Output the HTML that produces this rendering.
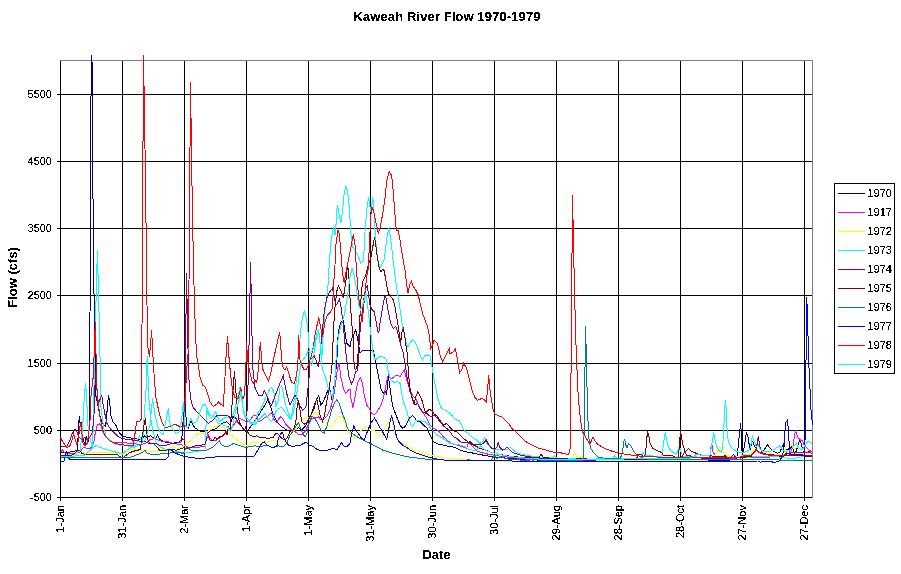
<!DOCTYPE html><html><head><meta charset="utf-8"><style>html,body{margin:0;padding:0;background:#fff}svg{display:block}text{font-family:"Liberation Sans",sans-serif;fill:#000}</style></head><body>
<svg width="901" height="574" viewBox="0 0 901 574">
<rect width="901" height="574" fill="#fff"/>
<g shape-rendering="crispEdges" stroke="#000" stroke-width="1" fill="none">
<line x1="60.5" y1="60" x2="60.5" y2="501"/>
<line x1="122.5" y1="60" x2="122.5" y2="501"/>
<line x1="184.5" y1="60" x2="184.5" y2="501"/>
<line x1="246.5" y1="60" x2="246.5" y2="501"/>
<line x1="308.5" y1="60" x2="308.5" y2="501"/>
<line x1="370.5" y1="60" x2="370.5" y2="501"/>
<line x1="432.5" y1="60" x2="432.5" y2="501"/>
<line x1="494.5" y1="60" x2="494.5" y2="501"/>
<line x1="556.5" y1="60" x2="556.5" y2="501"/>
<line x1="618.5" y1="60" x2="618.5" y2="501"/>
<line x1="680.5" y1="60" x2="680.5" y2="501"/>
<line x1="742.5" y1="60" x2="742.5" y2="501"/>
<line x1="804.5" y1="60" x2="804.5" y2="501"/>
<line x1="57" y1="94.5" x2="812" y2="94.5"/>
<line x1="57" y1="161.5" x2="812" y2="161.5"/>
<line x1="57" y1="228.5" x2="812" y2="228.5"/>
<line x1="57" y1="295.5" x2="812" y2="295.5"/>
<line x1="57" y1="363.5" x2="812" y2="363.5"/>
<line x1="57" y1="430.5" x2="812" y2="430.5"/>
<line x1="57" y1="497.5" x2="812" y2="497.5"/>
</g>
<g shape-rendering="crispEdges" stroke="#808080" stroke-width="1" fill="none"><line x1="60" y1="60.5" x2="813" y2="60.5"/><line x1="812.5" y1="60" x2="812.5" y2="498"/></g>
<defs><clipPath id="c"><rect x="60" y="55" width="753" height="443"/></clipPath></defs>
<g clip-path="url(#c)" shape-rendering="crispEdges" fill="none" stroke-width="1" stroke-linejoin="miter">
<polyline stroke="#000080" points="61,453 66,452.5 70,452 74,451.5 77.5,450 78.5,427 79.3,416 80,422.7 81,422 81.8,437 83,439.5 85,444.5 86.2,435.8 87.5,443 88.5,440 89.5,422 91.5,-7 93.5,266 95.9,396 97.9,405 99.8,415.8 101.8,421 103.8,425 105.3,426 106.4,419.7 107.7,402.7 108.7,395.5 109.6,401.4 111,415.8 113,422 115.5,424.2 116.8,427.5 119.4,432.7 122.7,436 127,437.3 133.8,438.6 141,439.5 144.5,435.8 147,437.7 150.8,435.8 153,437.7 156,438.3 157.6,435 159.5,439.5 164.5,442 172,443.3 178,442.5 181.7,440 183.3,418.3 184.7,398 186,416.7 186.7,426.7 188.3,428.3 190.8,420.8 192.5,424.2 195,428 200,431 205,432 208.3,432.5 211.7,430.0 216.7,428.3 221.7,423.3 226.7,421.7 230.0,425.0 232.5,417.5 235.0,416.7 237.5,421.7 241.7,426.7 245.0,430.8 248.3,430.0 251.7,425.0 256.7,418.3 261.7,410.0 265.0,405.0 267.5,400.0 270.0,405.0 273.3,415.0 276.7,421.7 281.7,426.7 286.7,430.0 290.8,431.7 295.0,430.0 298.3,427.5 301.7,430.0 305.0,426.7 308.3,420.0 311.7,413.3 315.0,403.3 316.7,399.2 318.7,395.8 320.8,405.0 323.3,401.7 326.7,393.3 329.2,386.7 331.7,398.3 333.3,393.3 335.0,376.7 336.7,363.3 338.3,331.7 340.8,322.5 343.3,320.8 345.0,331.7 346.7,343.3 350.0,346.7 350.8,341.7 352.5,336.7 354.2,333.3 355.8,330.0 357.5,338.3 359.2,348.3 360.0,352.5 362.5,350.8 366.7,350.0 373.3,350.5 375.8,363.3 377.5,371.7 379.2,380.0 380.8,388.3 383.3,393.3 385.3,391.3 386.7,394.2 387.5,383.3 388.3,375.8 390.0,388.3 391.7,400.0 393.3,408.3 396.7,416.7 400.0,425.0 402.5,428.3 405.0,426.7 407.5,421.7 410.0,417.5 412.5,415.8 415.0,418.3 416.7,420.8 420.0,421.7 423.3,425.0 426.7,427.5 429.2,433.3 431.7,438.3 433.3,441.7 438.3,444.2 443.3,445.0 450.0,446.7 451.7,446.7 455.0,447.5 460.0,450.0 465.0,451.7 470.0,452.5 478.3,454.2 486.7,455.8 495.0,457.0 511.7,458.7 528.3,459.7 545.0,460.3 595.0,460.8 596.7,460.8 723.3,460.8 736.7,459.2 738.1,447.3 739.4,434.2 740.7,423.1 741.3,434.2 742.0,451.2 743.3,452.5 744.6,444.6 745.9,435.5 746.6,433.3 747.9,436.8 749.2,444.6 750.5,449.9 751.8,440.7 753.1,442.0 754.4,445.9 756.4,449.9 758.3,452.5 760.9,453.1 764.2,449.9 766.1,446.6 767.5,445.0 769.4,447.3 772.0,450.5 774.6,451.8 777.3,453.1 779.9,452.5 781.8,447.3 783.8,443.3 785.1,447.3 786.4,449.9 787.7,449.2 790.3,448.6 791.6,446.6 792.9,448.6 794.2,452.5 796.2,451.2 798.2,444.6 799.5,440.1 800.8,442.0 802.1,447.3 803.4,451.2 804.7,451.2 808.6,451.2 812.3,451.4"/>
<polyline stroke="#FF00FF" points="61,452 62.5,450 65,453 71,454 75,453 80,452 81.7,449.5 84,447 87.5,448.5 90,449 92.5,445.5 94,441 95.4,432 97.3,425.2 99.2,423.6 101,426 103,432 104.7,435.8 108.5,439.5 113.5,442.6 123,442.6 130,443.3 136,444 142,444.5 147,442.6 149.5,440 153,439 155,438.5 157,439.5 162,441.4 167,441.4 172,443 177,444 182,445 186,446 190,448 196,447.5 205,446.5 207.5,433.3 210.0,438.3 213.3,440.8 216.7,440.0 221.7,436.7 225.0,433.3 229.2,430.0 232.5,426.7 235.8,421.7 240.0,418.3 243.3,420.0 246.7,421.7 250.0,420.0 253.3,415.8 256.7,415.0 258.3,421.7 261.7,420.0 265.0,417.5 268.3,415.8 271.7,412.5 274.2,420.0 276.7,422.5 280.0,416.7 282.5,418.3 285.0,423.3 288.3,426.7 291.7,430.0 295.0,431.7 298.3,434.2 301.7,435.0 305.0,431.7 308.3,425.0 311.7,418.3 315.0,418.3 318.3,416.7 320.8,420.0 323.3,419.2 326.7,416.7 330.0,410.0 333.3,398.3 335.8,381.7 337.5,368.3 339.2,363.3 340.8,376.7 343.3,388.3 345.8,393.3 348.3,390.0 350.0,389.2 350.8,398.3 353.0,407.5 355.0,396.7 357.5,383.3 360.3,377.5 362.5,383.3 364.2,395.0 366.7,405.0 369.2,408.3 371.7,413.3 374.2,415.0 376.7,412.5 379.2,408.3 381.7,403.3 383.3,398.3 385.0,390.0 386.7,381.7 388.3,375.0 390.8,379.2 393.3,377.5 396.7,375.0 400.0,376.7 402.5,372.5 404.5,370.0 405.8,376.7 408.3,385.0 410.8,391.7 413.3,396.7 415.8,398.3 418.3,405.0 420.8,410.0 423.3,413.3 426.7,418.3 430.0,425.0 433.3,428.3 438.3,430.8 443.3,436.7 450.0,442.5 453.3,444.2 456.7,445.0 461.7,446.7 466.7,448.3 468.3,443.3 469.7,442.0 471.7,445.8 474.2,448.3 476.7,450.8 481.7,452.5 488.3,454.2 495.0,455.3 503.3,456.7 511.7,457.5 528.3,459.2 545.0,460.0 595.0,461.3 596.7,460.0 706.7,460.0 710.0,456.7 710.8,448.3 711.7,443.3 713.0,451.7 715.0,455.0 716.7,456.3 723.3,458.3 740.0,459.2 742.0,457.1 764.2,457.4 779.9,456.4 790.3,452.5 792.9,447.3 794.2,438.1 795.5,430.3 796.6,434.2 798.2,438.1 800.8,440.1 802.7,440.7 804.0,444.6 806.0,447.3 808.0,449.2 812.3,452.5"/>
<polyline stroke="#FFFF00" points="61,454.5 80,454 86,453 92,452.5 110,452.5 120,453.5 124,454 129,451 134.5,448.5 140,450.5 149,452 157,451 162,449.5 167,449.5 172,447 178,448.5 181,447 185,445 190,441.5 194,437 197.5,434 201,433.5 205,433 210.0,430.0 215.0,426.7 218.3,425.8 221.7,427.5 225.0,428.3 227.5,431.7 230.0,434.2 233.3,436.7 236.7,439.2 241.7,443.3 246.7,445.8 250.0,444.2 253.3,441.7 256.7,443.3 259.2,441.7 261.7,443.3 266.7,442.5 271.7,440.8 275.0,440.0 277.5,442.5 280.0,438.3 283.3,439.2 286.7,441.7 289.2,438.3 291.7,431.7 295.0,430.0 298.3,425.8 300.0,423.3 303.3,419.2 306.7,417.5 310.0,418.3 312.5,416.7 315.0,411.7 317.5,415.0 320.0,416.7 322.5,420.8 325.8,422.5 328.3,425.8 331.7,426.7 335.0,421.7 337.5,417.5 340.0,415.8 342.5,417.5 345.0,425.0 347.5,431.7 350.0,433.3 353.3,438.3 356.7,436.7 360.0,431.7 363.3,428.3 366.7,426.7 369.2,429.2 371.7,430.8 374.2,430.0 376.7,432.5 380.0,435.8 382.5,435.0 385.0,428.3 387.5,423.3 390.0,419.2 391.7,418.3 393.3,426.7 395.0,433.3 396.7,438.3 400.0,442.5 405.0,444.2 410.0,447.5 414.2,450.0 423.3,453.3 436.7,456.7 450.0,458.7 495.0,461.3 545.0,462.0 570.0,461.7 572.5,457.5 574.7,452.5 576.7,456.7 580.0,457.5 581.7,455.8 583.3,458.3 586.7,459.7 595.0,460.0 596.7,460.3 713.3,460.0 715.8,455.0 717.5,450.0 719.7,446.7 721.7,450.0 723.3,452.5 725.8,454.2 728.3,455.8 733.3,457.5 740.0,458.0 742.0,455.4 744.6,455.1 751.1,453.8 757.0,447.3 758.7,444.0 760.0,447.3 762.2,451.2 765.5,452.5 768.1,451.8 770.7,453.8 777.3,455.1 783.8,453.8 785.7,447.3 787.7,442.7 789.0,447.3 790.3,445.9 791.6,444.6 792.9,447.3 794.9,448.6 798.2,447.3 800.8,448.6 804.7,451.2 812.3,453.1"/>
<polyline stroke="#00FFFF" points="61,455.5 70,455.7 73.7,454.5 77.4,452 80,450.7 81.7,438 83,421 84.2,398.5 85.6,383 86.7,400 88.6,437 90.4,439 92.3,448 93,433 93.8,396 95.5,320 97.4,250 99.5,330 101,408 103.5,427 106,435.8 109.7,439.5 114.7,443.9 119.7,445.1 124.7,445.7 132,446.4 135.8,445.7 138.3,438.3 139.6,435.8 140.8,439.5 142,442 143.3,433.3 144.5,408.4 145.8,396 147.2,356 149,400 151,420 153,432 156,442 160,447 165,449 172,451 180,452 190,452.5 205,450 206.7,410.0 209.2,416.7 211.7,418.3 214.2,413.3 215.8,411.7 217.5,416.7 220.0,421.7 223.3,418.3 226.7,417.5 230.0,418.3 232.5,415.0 235.0,408.3 237.5,398.3 240.0,387.5 241.7,398.3 243.7,413.3 245.8,418.3 248.3,421.7 251.7,424.2 255.0,421.7 257.5,413.3 260.0,410.0 263.3,403.3 266.7,395.8 269.2,390.0 271.7,387.5 274.2,393.3 275.8,406.7 278.3,400.0 280.0,388.3 281.7,385.8 283.3,393.3 285.0,403.3 287.5,410.0 290.0,418.3 291.7,415.0 293.5,404 295,392 296.4,379.4 298.2,355 299.6,342 301,328 302.4,318 304.5,310.4 306.6,319.5 307.7,328 308.7,342 309.4,356 310.3,363 311.7,365 313.3,358 316,340 318.7,333 320.5,345 322,355 323.5,330 325,310 326.7,298 328.3,282 329.2,265 330.8,243.3 332.5,231.7 333.8,227.5 335.0,235.0 335.8,231.7 336.3,215.0 337.5,205.3 339.2,215.0 340.8,223.3 342.5,211.7 344.2,193.3 345.8,186.3 347.5,190.0 349.2,206.7 350.8,231.7 352.5,246.7 355.8,251.7 358.3,256.7 360.8,263.3 363.3,260.8 364.2,248.3 365.0,231.7 366.3,215.0 367.5,203.3 368.7,197.0 370.0,206.7 371.2,213.3 372.0,203.3 372.8,197.0 374.2,215.0 375.3,235.0 376.7,251.7 378.0,260.0 380.0,268.3 381.7,265.0 384.2,260.0 385.0,253.3 386.7,240.0 388.7,228.3 390.3,236.7 392.0,250.0 393.0,260.0 394.2,268.3 395.8,281.7 397.5,293.3 399.2,303.3 400.8,315.0 402.5,326.7 404.2,333.3 406.7,345.0 408.3,346.7 410.8,341.7 412.5,340.0 415.0,341.7 416.7,345.0 418.3,350.0 420.0,355.0 422.5,360.0 424.7,355.8 427.5,355.0 430.0,355.8 431.7,365.0 433.3,375.0 435.8,388.3 438.3,400.0 440.8,407.5 443.3,409.2 446.7,410.8 450.0,413.3 455.0,419.2 459.2,420.8 461.7,425.0 464.2,430.8 468.3,433.3 472.5,437.5 476.7,440.0 480.0,443.3 482.5,441.7 484.7,437.5 486.7,443.3 490.0,446.7 493.3,449.2 496.7,450.0 501.7,449.2 506.7,450.0 510.3,447.2 513.3,450.0 516.7,452.5 521.7,454.2 528.3,455.5 535.0,456.7 545.0,457.5 551.7,458.0 554.2,455.8 555.3,457.7 561.7,458.7 578.3,459.0 595.0,459.2 596.7,458.8 612.5,459.2 614.7,455.3 616.7,458.3 640.0,458.0 643.3,452.5 645.0,455.3 661.7,456.7 663.3,445.0 664.5,436.7 665.5,432.5 666.7,440.0 668.3,446.7 670.8,450.8 673.3,452.5 675.8,454.2 677.5,451.7 679.5,445.0 680.8,451.7 683.3,456.7 696.7,457.0 740.0,458.0 742.0,457.4 764.2,456.4 777.3,456.7 783.8,457.7 790.3,458.7 798.2,457.7 803.4,456.4 812.3,456.1"/>
<polyline stroke="#800080" points="61,446 67,446 70,440 72,434 74.9,429.3 77,432 79,437 82,440 85,437 87.5,440 90,437 92.5,432 94,415 95,385 96,372 97,390 97.9,404.6 100,399.5 101.8,395.5 103,404 105,414.4 107,423.6 110.3,428.8 114.2,432.7 118,436.6 122,438.6 129.6,439.5 137,440.8 145,441.5 150,443.9 155,443.3 161,445.7 167,445 172,443.5 177,443 181,442 182.5,439 184.5,440.5 186.5,273.5 188.5,373.5 190.5,398 192.5,406.5 197.5,412.7 202.5,417.7 205,420 208.3,423.3 213.3,420.0 216.7,415.8 221.7,415.8 226.7,415.0 230.0,417.5 233.3,416.7 235.8,417.5 238.3,423.3 241.7,426.7 244.2,430.8 246.5,425 248.5,372 250.6,262 252.6,366 255.0,387.5 258.3,395.0 262.5,395.8 264.2,390.8 266.7,395.0 269.2,401.7 271.7,405.0 274.2,398.3 276.7,391.7 280.0,383.3 283.3,375.8 285.0,385.0 287.5,396.7 290.0,405.0 292.5,400.0 295.0,395.0 297.5,399.2 300.0,405.8 302.5,410.0 305.8,407.5 307.5,393.3 309.2,376.7 310.0,360.0 312,358 314.2,355.7 316.3,361 318.4,367 319.8,355.7 321.2,341.8 322.6,327.9 324,314 325.5,304 326.7,298.3 329.2,292.5 332.5,288.3 334.2,296.7 335.8,305.0 337.5,303.3 339.2,299.2 340.8,305.0 342.5,318.3 344.2,335.0 345.8,351.7 346.7,360.0 349.2,378.3 351.7,384.2 353.3,380.0 355.8,371.7 357.5,370.8 358.3,363.3 359.2,340.0 360.8,323.3 362.5,310.0 364.2,296.7 365.8,288.3 367.5,285.8 368.3,293.3 370.0,305.0 371.7,309.2 374.2,311.7 375.8,320.0 377.5,330.0 378.7,333.3 380.0,323.3 381.7,313.3 383.3,303.3 385.3,295.0 386.7,301.7 388.3,311.7 390.8,323.3 393.3,328.3 395.8,326.7 397.5,331.7 399.2,338.3 400.8,345.0 403.3,353.3 405.8,368.3 407.5,380.0 410.0,391.7 412.5,398.3 415.0,405.0 417.5,403.3 420.0,408.3 423.3,412.5 426.7,413.3 429.2,415.8 431.7,416.7 434.2,415.0 436.7,417.5 440.0,421.7 443.3,425.8 446.7,428.3 450.0,431.7 453.3,436.7 456.7,438.3 460.0,441.7 463.3,442.5 467.5,442.5 470.0,441.7 473.3,444.2 478.3,445.0 481.7,444.2 484.2,442.5 486.3,440.0 488.3,444.2 491.7,448.3 495.0,449.2 497.0,446.7 498.3,442.5 500.0,447.5 502.5,450.0 505.0,449.2 507.0,447.2 509.2,449.2 511.7,451.7 515.0,453.3 520.0,455.0 528.3,456.7 538.3,458.0 551.7,459.2 595.0,460.3 596.7,459.7 680.0,459.2 682.5,455.8 684.2,452.5 685.0,451.7 686.7,455.8 690.0,455.0 691.7,457.5 706.7,458.3 730.0,458.0 732.5,455.8 733.7,454.2 735.0,456.7 740.0,458.0 742.0,456.4 751.1,455.4 755.7,449.9 757.0,444.6 758.3,436.1 759.2,442.0 760.3,448.6 762.2,452.5 764.2,453.8 777.3,455.4 812.3,455.7"/>
<polyline stroke="#800000" points="61,456 71,455.7 74,454 77.5,450.5 80,450.8 82,453.5 87,455 92,454 105,454 117,454.5 120,456.5 122.8,457.6 126,455.5 129.6,452.6 134.6,451 140.5,449.5 142,437 143.5,430 144.5,421 145.5,418.4 146.5,432 147.7,439.5 149.5,443 153.5,443.3 156,446 159.5,450 167,450 172,449 176,450.5 180,449 184,447.5 186,449 190,447.5 195,446 200,445.5 205,444.5 206.7,438.3 208.3,436.7 210.0,440.0 213.3,440.8 215.0,436.7 216.7,439.2 220.0,436.7 223.3,435.8 225.8,431.7 227.0,435.0 228.3,426.7 230.0,430.0 231.7,410.0 233.3,385.0 234.5,371.3 235.8,390.0 237.5,410.0 239.2,421.7 241.7,426.7 244.2,430.8 247.5,431.7 250.0,435.0 253.3,436.7 256.7,435.8 260.0,437.5 263.3,437.5 268.3,438.3 273.3,437.5 275.8,433.3 278.3,434.2 281.7,438.3 285.0,440.0 286.7,438.3 290.0,431.7 293.3,430.0 295.8,423.3 296.7,410.0 298.3,400.8 300.0,410.0 301.7,421.7 304.2,424.2 306.7,422.5 309.2,418.3 311.7,413.3 314.2,408.3 316.7,398.3 318.3,406.7 320.0,415.0 322.5,421.7 324.2,416.7 325.8,406.7 328.3,393.3 330.8,376.7 332.5,360.0 333.3,331.7 335.0,306.7 336.7,291.7 338.3,285.8 340.8,290.0 343.3,298.3 345.8,281.7 347.5,265.0 348.3,270.0 349.2,281.7 350.0,298.3 351.7,323.3 353.3,338.3 354.2,368.3 355.8,370.0 357.5,365.0 359.2,330.0 360.8,301.7 362.5,281.7 365.0,276.7 366.7,271.7 368.3,265.0 370.8,258.3 372.5,248.3 374.5,237.5 375.8,245.0 377.0,255.0 379.2,268.3 380.8,271.7 382.5,269.2 384.2,270.8 385.8,280.0 387.5,290.0 389.2,295.0 391.7,297.5 393.3,300.0 395.0,306.7 396.7,316.7 398.3,326.7 400.0,338.3 400.8,341.7 402.0,331.7 403.3,328.3 404.7,335.0 405.8,345.0 407.5,355.0 408.3,371.7 410.0,388.3 412.0,398.3 414.2,404.2 415.8,396.7 417.8,391.7 420.0,395.8 422.5,401.7 424.2,408.3 425.8,413.3 427.5,410.8 429.2,409.2 431.7,410.8 434.2,414.2 436.7,415.8 439.2,419.2 441.7,423.3 444.2,425.0 446.7,423.3 450.0,427.5 453.3,430.8 456.7,431.7 460.0,435.0 463.3,438.3 466.7,440.8 470.0,443.3 475.0,445.8 480.0,448.3 485.0,450.0 491.7,452.5 498.3,454.2 505.0,455.5 511.7,456.3 520.0,457.2 531.7,458.0 539.2,457.5 541.3,454.2 543.3,457.5 551.7,458.3 561.7,458.7 571.7,459.2 583.3,458.7 595.0,459.7 596.7,459.2 636.7,459.2 637.5,455.0 641.7,454.7 643.3,456.7 645.3,455.0 646.3,445.0 647.5,430.8 648.7,435.0 650.0,443.3 652.5,448.3 656.7,450.3 660.0,451.7 662.5,453.3 663.3,455.8 668.3,455.8 672.5,455.3 675.0,457.5 678.3,458.0 679.5,445.0 680.5,430.0 681.7,438.3 683.0,445.0 685.0,451.7 686.7,450.8 688.3,448.3 690.8,450.8 694.2,452.5 698.3,454.2 703.3,455.8 710.0,455.8 715.0,456.3 721.7,457.0 725.0,455.8 728.3,457.5 740.0,457.0 742.0,457.4 751.1,456.4 755.0,451.2 756.4,449.2 758.3,451.8 760.9,452.5 764.2,454.4 768.1,455.1 783.8,456.4 787.7,453.1 790.3,454.4 796.8,455.7 812.3,456.4"/>
<polyline stroke="#008080" points="61,457.5 128,458 134,456 140,453.5 143,452 145,450.5 147,453 152,454.5 160,454 167,453.5 175,452 180,452 183,454 186.7,446.7 190,449.5 193,450.8 200,450.8 205,450 206.7,450.0 213.3,446.7 219.2,440.8 221.7,445.0 225.0,446.7 230.0,445.8 233.3,443.3 238.3,445.0 245.0,447.5 250.0,446.7 255.0,445.8 260.0,446.7 266.7,445.0 271.7,447.5 278.3,445.8 283.3,447.0 286.7,443.3 290.0,435.0 293.3,430.8 296.7,425.0 298.3,422.5 300.0,426.7 302.5,433.3 305.0,436.7 307.5,431.7 309.2,421.7 311.7,416.7 314.2,417.5 316.7,421.7 319.2,426.7 321.7,431.7 324.2,433.3 326.7,426.7 329.2,418.3 331.7,410.0 334.2,403.3 336.7,400.0 339.2,403.3 341.7,411.7 345.0,420.0 347.5,428.3 350.0,430.8 353.3,434.2 358.3,437.5 363.3,440.0 370.0,443.3 376.7,446.7 382.5,450.0 393.3,453.3 406.7,456.7 426.7,459.2 450.0,460.3 466.7,460.3 468.3,459.2 470.0,460.3 490.0,460.8 492.5,458.3 494.2,455.8 496.7,458.3 499.2,457.5 501.7,456.7 505.0,458.3 511.7,459.7 528.3,460.3 531.7,461.7 534.2,459.7 545.0,460.3 578.3,460.7 583.7,458 585.6,326 587.2,395 588.3,430 589.2,441.7 590.8,448.3 593.3,452.5 595.0,454.2 598.3,457.0 603.3,458.0 610.0,458.3 620.0,458.8 622.5,453.3 623.3,445.0 624.5,438.7 625.8,445.0 627.0,447.5 628.7,443.7 630.8,445.8 633.0,450.0 635.0,453.3 638.3,455.8 643.3,458.0 648.3,459.2 656.7,459.7 740.0,460.0 742.0,459.9 812.3,460.1"/>
<polyline stroke="#0000FF" points="61,461 64,461 65,457 66.5,451 68,458 71,460 122,459.5 165,460 168,457 169,449 171,450 175,453 180,455 185,456.5 195,458 205,458 215,457 230,456.5 240,456 252.5,457 255.0,455.0 258.3,449.2 261.7,443.3 264.2,441.7 266.7,445.0 270.0,446.7 273.3,447.5 276.7,446.7 278.3,438.3 280.8,433.3 282.5,432.5 284.2,438.3 285.8,441.7 288.3,445.0 293.3,446.7 296.7,445.0 300.0,445.8 303.3,443.3 306.7,442.5 309.2,445.0 313.3,446.7 316.7,449.2 321.7,450.8 328.3,450.0 333.3,448.3 336.7,450.0 340.0,445.0 341.7,442.5 343.3,445.8 346.7,446.7 350.0,443.3 351.7,433.3 353.8,425.8 355.8,430.8 358.3,433.3 360.8,437.5 364.2,440.0 366.7,433.3 370.0,425.0 372.5,420.8 374.5,418.3 376.7,421.7 379.2,426.7 381.7,430.0 384.2,435.0 386.7,439.2 388.3,431.7 390.0,421.7 391.7,415.8 393.3,421.7 395.0,430.0 396.7,437.5 399.2,441.7 402.5,445.0 406.7,447.5 410.0,450.0 416.7,453.3 426.7,456.7 438.3,459.2 450.0,460.8 595.0,461.3 596.7,461.7 740.0,461.7 743.3,461.0 748.5,461.6 757.7,461.0 760.3,462.3 762.9,461.0 770.7,461.4 773.3,462.3 777.3,461.9 779.9,460.3 782.5,456.4 783.8,447.3 784.8,434.2 785.4,422.4 786.4,421.8 787.4,420.1 788.4,429.0 789.0,440.7 789.7,449.9 790.3,453.8 792.9,455.1 795.5,454.4 802.1,454.0 804.8,457 806.8,297.3 808.9,365 811,410 812.5,425"/>
<polyline stroke="#FF0000" points="60.6,437.7 62.5,441.4 64.3,443.9 66.8,447.6 70,445.7 71.8,440.8 73.7,433.3 74.9,438.3 76.8,444.5 78,442 79.9,427 81,422.7 81.7,430.8 83,443.3 84.9,445.7 87.3,443 89.8,425.8 91,396 93.3,376 95.3,322.5 96.7,385 98,400 99.8,416 101.6,424.6 103.5,432 106,437 109.7,440.8 114.7,443.3 119.7,444.5 124.7,445.1 129.6,445.7 133.4,445.1 134.6,437 135.8,427 137,421.5 140.2,420.9 141.5,418.5 143.5,53.5 145.5,180.5 147.5,345.5 149.5,357 151.6,330 153.6,368 155.7,396 158.2,408.4 160.7,418.4 163.2,424.6 165.7,427.7 171.7,425.8 175,424.2 180,426.7 183.3,426.7 184.5,415.5 186.5,372.5 188.5,348.5 190.5,82.5 192.5,218.5 194.5,306.5 196.5,355.5 198.5,367 200,376.7 202.5,385 205,386.7 207.5,393.3 210.0,401.7 213.3,406.7 216.7,404.2 218.3,401.7 220.8,404.2 223.3,405.8 225.0,376.7 225.8,360.0 227.5,336.3 229.2,360.0 230.8,376.7 232.5,390.0 235.0,397.5 238.3,398.3 240.8,387.5 242.5,400.0 244.2,395.8 245.8,376.7 246.3,342.0 248.3,365.0 250.0,373.3 251.7,380.0 253.3,383.3 255.0,380.0 256.7,382.5 258.3,370.0 260.3,342.5 262.5,368.3 265.8,375.8 268.3,380.8 270.8,373.3 273.3,360.0 279.7,332.0 281.7,360.0 283.3,368.3 285.0,370.0 286.7,366.7 289.2,375.0 291.7,382.5 294.2,383.3 296.7,375.0 298.0,360.0 298.7,335.0 300.0,360.0 301.7,365.0 304.2,370.0 306.7,369.2 308.3,365.0 310.0,360.0 312.5,351.7 315.0,335.0 318.7,317.5 320.8,328.3 322.5,336.7 325.0,321.7 327.5,315.0 330.0,312.5 332.5,308.3 333.3,290.0 334.2,276.7 335.0,265.0 335.8,245.0 338.0,230.5 339.2,233.3 340.3,245.0 342.5,273.3 344.2,283.3 345.8,273.3 347.5,265.0 350.8,248.3 353.3,234.2 355.0,245.0 356.7,273.3 358.3,293.3 360.0,308.3 362.0,321.7 363.3,310.0 365.0,293.3 366.7,276.7 368.3,268.3 370.0,231.7 370.8,215.0 372.0,207.5 373.3,210.0 375.8,221.7 378.3,233.3 380.0,228.3 382.5,215.0 385.0,198.3 386.7,181.7 389.2,171.3 391.3,175.0 392.5,181.7 393.7,198.3 395.0,215.0 396.3,230.0 398.3,230.8 400.0,240.0 401.7,251.7 405.0,270.0 406.7,285.0 408.0,292.5 409.7,285.0 411.3,281.3 413.3,286.7 415.8,290.0 418.3,295.0 420.0,303.3 422.5,313.3 425.0,320.0 427.5,326.7 429.2,335.0 430.8,348.3 432.5,345.0 434.2,340.0 436.7,342.5 438.3,346.7 440.0,355.0 442.5,361.7 445.0,356.7 449.2,348.3 450,354.2 453.3,351.7 455.3,349.2 457.0,356.7 458.3,365.0 459.7,372.5 461.7,370.0 463.7,363.3 465.8,366.7 467.5,371.7 470.0,381.7 472.5,391.7 475.0,397.5 477.5,400.3 480.0,399.2 482.0,398.3 484.2,399.7 486.3,401.7 487.5,390.0 488.7,375.3 490.0,390.0 491.7,401.7 493.3,410.8 495.0,414.2 498.3,415.8 501.7,417.0 502.5,417.5 505.8,420.8 509.2,424.2 511.7,428.3 515.0,430.8 518.3,434.2 521.7,437.5 525.0,440.8 528.3,443.3 531.7,445.0 535.0,446.7 538.3,448.3 543.3,449.2 548.3,450.8 553.3,452.2 558.3,452.5 563.3,453.3 566.7,454.2 568.7,454.2 570.4,448 572.5,195 574.5,291 576,345 577.5,381.7 578.3,398.3 580,415 581.7,428.3 583.3,433.3 585.8,437.5 588.3,441.7 590.0,443.7 591.7,440.0 593.0,436.7 594.2,439.2 595.0,440.8 597.5,444.2 601.7,446.7 606.7,449.2 613.3,451.7 620.0,453.3 628.3,454.7 636.7,455.8 646.7,456.7 656.7,457.0 673.3,457.5 680.8,457.8 690.0,457.3 723.3,457.5 740.0,457.0 742.0,456.4 744.6,455.7 751.1,455.1 754.4,452.5 756.4,449.9 759.0,452.5 762.9,453.8 768.1,455.1 777.3,455.7 783.8,455.1 786.4,452.5 788.4,450.5 790.3,452.5 794.2,453.1 799.5,452.5 804.7,452.5 812.3,453.1"/>
<polyline stroke="#00FFFF" points="61,456 75,456 85,455 92.3,448.2 96,445.7 102.3,448.2 111,450.7 119.7,453.2 122.2,454.5 124.7,452 129.6,448.2 134.6,447 140,445 145,440 150,425 152.5,398.3 155,415 158,426.7 160,431.7 163,435 166,420 168.3,408.3 170,423.3 173,430 176,433.3 179,432 181.7,420 183.3,401.7 185,425 187,428 188.3,426.7 190.8,418.3 193.3,423.3 196.7,421.7 200,411.7 202.5,405.8 205,404 210.0,415.0 215.0,417.5 218.3,423.3 223.3,425.0 227.5,426.7 230.8,431.7 233.3,423.3 235.8,410.0 238.3,403.3 241.2,391.7 243.0,406.7 245.0,415.0 250.0,421.7 255.0,425.0 258.3,420.0 261.7,416.7 265.0,413.3 268.3,418.3 271.7,421.7 274.2,415.0 276.7,410.0 279.2,408.3 281.7,407.5 285.0,411.7 288.3,416.7 290.8,419.2 293.3,413 295.8,400 298,385 299.5,372 301,362.7 303,360 306,355.7 308,351.5 310,353 312.9,350 315,342 317,332 318.4,330 319.5,336 320.5,349 321.5,362.7 322.6,370 324.7,375 326,379.4 328.3,388.3 330.8,394.2 332.5,396.7 334.2,388.3 335.3,371.7 336.3,355.0 336.7,346.7 339.2,333.3 341.7,323.3 344.2,315.0 346.7,301.7 348.3,290.0 350.0,276.7 352.0,268.3 353.7,273.3 355.8,285.0 357.5,296.7 359.2,306.7 360.8,310.0 362.5,305.0 364.2,300.0 365.8,293.3 366.7,298.3 368.3,311.7 370.0,326.7 371.7,340.0 373.3,355.0 375.0,360.0 377.5,358.3 380.0,356.7 382.5,356.7 385.0,358.3 386.7,360.0 388.3,371.7 390.8,380.0 394.2,382.5 397.5,381.7 400.0,383.3 401.7,393.3 403.3,401.7 405.8,408.3 408.3,416.7 410.8,425.0 412.5,426.7 415.0,421.7 418.3,420.0 421.7,420.8 425.0,421.7 428.3,425.0 431.7,430.0 435.0,433.3 440.0,436.7 445.0,440.0 450.0,443.3 455.0,444.2 460.0,445.0 465.0,446.7 468.3,449.2 471.7,450.0 475.0,450.8 478.3,448.3 480.8,445.8 483.3,448.3 486.7,450.8 491.7,452.5 498.3,454.2 508.3,456.3 518.3,457.5 531.7,458.7 545.0,459.3 595.0,460.0 596.7,459.3 690.0,458.3 696.7,454.2 700.0,455.0 706.7,455.8 710.0,455.0 711.7,445.0 712.8,438.3 713.7,432.5 715.0,440.0 716.7,446.7 719.2,450.8 721.7,452.5 723.0,441.7 724.2,420.0 725.0,405.0 725.7,400.3 726.3,411.7 727.0,428.3 728.3,441.7 730.8,446.7 733.3,449.2 736.7,451.7 740.0,452.5 742.0,452.5 745.9,451.8 748.5,450.5 750.5,447.3 751.8,439.4 752.4,436.1 753.7,439.4 755.0,443.3 756.4,446.6 758.3,444.6 759.6,448.6 762.9,451.2 766.8,451.8 770.7,451.2 773.3,449.9 775.3,448.6 777.3,447.3 779.2,445.9 781.2,447.9 783.1,449.9 785.1,451.2 787.7,451.2 790.3,449.9 792.9,447.3 794.9,445.3 796.2,443.3 797.5,445.9 799.5,448.6 802.1,449.9 804.0,447.3 806.0,444.0 808.0,441.4 809.9,442.0 812.3,444.0"/>
</g>
<defs><filter id="t" x="0" y="0" width="100%" height="100%" filterUnits="userSpaceOnUse" color-interpolation-filters="sRGB"><feComponentTransfer><feFuncA type="discrete" tableValues="0 0 1 1 1"/></feComponentTransfer></filter></defs>
<g filter="url(#t)">
<text x="52" y="98" font-size="11" text-anchor="end">5500</text>
<text x="52" y="165" font-size="11" text-anchor="end">4500</text>
<text x="52" y="232" font-size="11" text-anchor="end">3500</text>
<text x="52" y="299" font-size="11" text-anchor="end">2500</text>
<text x="52" y="367" font-size="11" text-anchor="end">1500</text>
<text x="52" y="434" font-size="11" text-anchor="end">500</text>
<text x="52" y="501" font-size="11" text-anchor="end">-500</text>
<text transform="translate(64,505) rotate(-90)" font-size="11" text-anchor="end">1-Jan</text>
<text transform="translate(126,505) rotate(-90)" font-size="11" text-anchor="end">31-Jan</text>
<text transform="translate(188,505) rotate(-90)" font-size="11" text-anchor="end">2-Mar</text>
<text transform="translate(250,505) rotate(-90)" font-size="11" text-anchor="end">1-Apr</text>
<text transform="translate(312,505) rotate(-90)" font-size="11" text-anchor="end">1-May</text>
<text transform="translate(374,505) rotate(-90)" font-size="11" text-anchor="end">31-May</text>
<text transform="translate(436,505) rotate(-90)" font-size="11" text-anchor="end">30-Jun</text>
<text transform="translate(498,505) rotate(-90)" font-size="11" text-anchor="end">30-Jul</text>
<text transform="translate(560,505) rotate(-90)" font-size="11" text-anchor="end">29-Aug</text>
<text transform="translate(622,505) rotate(-90)" font-size="11" text-anchor="end">28-Sep</text>
<text transform="translate(684,505) rotate(-90)" font-size="11" text-anchor="end">28-Oct</text>
<text transform="translate(746,505) rotate(-90)" font-size="11" text-anchor="end">27-Nov</text>
<text transform="translate(808,505) rotate(-90)" font-size="11" text-anchor="end">27-Dec</text>
<text x="353.5" y="21" font-size="13" font-weight="bold" textLength="187" lengthAdjust="spacing">Kaweah River Flow 1970-1979</text>
<text x="436.5" y="559" font-size="13" font-weight="bold" text-anchor="middle">Date</text>
<text transform="translate(17,277.5) rotate(-90)" font-size="13" font-weight="bold" text-anchor="middle">Flow (cfs)</text>
</g>
<rect x="834.5" y="183.5" width="60" height="190" fill="#fff" stroke="#000" stroke-width="1" shape-rendering="crispEdges"/>
<line x1="838" y1="193.5" x2="865" y2="193.5" stroke="#000080" stroke-width="1" shape-rendering="crispEdges"/>
<text x="867.5" y="197" font-size="11" filter="url(#t)">1970</text>
<line x1="838" y1="212.5" x2="865" y2="212.5" stroke="#FF00FF" stroke-width="1" shape-rendering="crispEdges"/>
<text x="867.5" y="216" font-size="11" filter="url(#t)">1917</text>
<line x1="838" y1="231.5" x2="865" y2="231.5" stroke="#FFFF00" stroke-width="1" shape-rendering="crispEdges"/>
<text x="867.5" y="235" font-size="11" filter="url(#t)">1972</text>
<line x1="838" y1="250.5" x2="865" y2="250.5" stroke="#00FFFF" stroke-width="1" shape-rendering="crispEdges"/>
<text x="867.5" y="254" font-size="11" filter="url(#t)">1973</text>
<line x1="838" y1="269.5" x2="865" y2="269.5" stroke="#800080" stroke-width="1" shape-rendering="crispEdges"/>
<text x="867.5" y="273" font-size="11" filter="url(#t)">1974</text>
<line x1="838" y1="288.5" x2="865" y2="288.5" stroke="#800000" stroke-width="1" shape-rendering="crispEdges"/>
<text x="867.5" y="292" font-size="11" filter="url(#t)">1975</text>
<line x1="838" y1="307.5" x2="865" y2="307.5" stroke="#008080" stroke-width="1" shape-rendering="crispEdges"/>
<text x="867.5" y="311" font-size="11" filter="url(#t)">1976</text>
<line x1="838" y1="326.5" x2="865" y2="326.5" stroke="#0000FF" stroke-width="1" shape-rendering="crispEdges"/>
<text x="867.5" y="330" font-size="11" filter="url(#t)">1977</text>
<line x1="838" y1="345.5" x2="865" y2="345.5" stroke="#FF0000" stroke-width="1" shape-rendering="crispEdges"/>
<text x="867.5" y="349" font-size="11" filter="url(#t)">1978</text>
<line x1="838" y1="364.5" x2="865" y2="364.5" stroke="#00FFFF" stroke-width="1" shape-rendering="crispEdges"/>
<text x="867.5" y="368" font-size="11" filter="url(#t)">1979</text>
</svg></body></html>
